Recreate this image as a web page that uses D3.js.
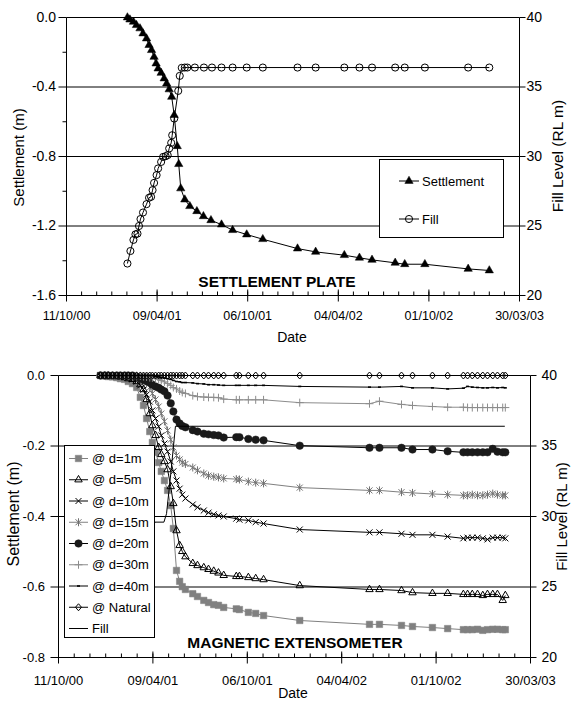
<!DOCTYPE html>
<html>
<head>
<meta charset="utf-8">
<script src="https://cdn.jsdelivr.net/npm/d3@7"></script>
<style>
  html, body { margin: 0; padding: 0; background: #fff; }
  svg { display: block; font-family: "Liberation Sans", Arial, Helvetica, sans-serif; }
</style>
</head>
<body>
<svg id="chart" width="571" height="702"></svg>
<script>
// ---------- shared axis definitions ----------
const dateTicks = ["11/10/00", "09/04/01", "06/10/01", "04/04/02", "01/10/02", "30/03/03"];
const fillTicks = [40, 35, 30, 25, 20];

// ---------- settlement plate (reading day = days after 11/10/00) ----------
const plateTicks = [0, -0.4, -0.8, -1.2, -1.6];
const plateMinorTicks = [-0.2, -0.6, -1.0, -1.4];
const plateDays = [121, 126, 133, 139, 146, 152, 159, 164, 169, 174, 178, 182, 188, 194, 199, 204, 209, 214, 220, 223,
  227, 235, 245, 259, 272, 287, 308, 330, 358, 390, 459, 495, 552, 582, 607, 653, 672, 712, 798, 840];
const plateSettlement = [0, -0.012, -0.025, -0.044, -0.063, -0.092, -0.121, -0.159, -0.188, -0.227, -0.265, -0.294,
  -0.319, -0.351, -0.38, -0.414, -0.457, -0.562, -0.741, -0.844, -0.984, -1.048, -1.086, -1.115, -1.144, -1.167,
  -1.192, -1.224, -1.249, -1.276, -1.33, -1.349, -1.368, -1.383, -1.395, -1.412, -1.42, -1.42, -1.447, -1.456];
const plateFillDays = [121, 127, 133, 137, 141, 144, 147, 152, 159, 164, 168, 171, 174, 179, 182, 188, 192, 197, 201,
  204, 208, 210, 214, 222, 225, 229, 235, 240, 255, 273, 289, 308, 330, 358, 390, 459, 495, 552, 582, 607, 653, 672,
  712, 798, 840];
const plateFill = [22.3, 23.2, 24.0, 24.4, 24.45, 25.0, 25.5, 25.97, 26.57, 27.03, 27.1, 27.58, 28.1, 28.66, 29.14,
  29.61, 29.97, 30.02, 30.1, 30.58, 30.98, 31.53, 32.73, 34.72, 35.8, 36.38, 36.4, 36.4, 36.4, 36.4, 36.4, 36.4, 36.4,
  36.4, 36.4, 36.4, 36.4, 36.4, 36.4, 36.4, 36.4, 36.4, 36.4, 36.4, 36.4];

// ---------- magnetic extensometer (shared reading days after 11/10/00) ----------
const extTicks = [0, -0.2, -0.4, -0.6, -0.8];
const extDays = [80, 88, 95, 103, 111, 118, 126, 133, 141, 149, 156, 162, 168, 174, 179, 185, 191, 196, 202, 208,
  214, 219, 225, 231, 236, 242, 256, 265, 277, 286, 296, 305, 315, 339, 345, 362, 376, 391, 460, 593,
  612, 654, 675, 713, 742, 772, 780, 789, 799, 809, 818, 828, 837, 847, 852];
const extD1 = [0, -0.001, -0.003, -0.004, -0.006, -0.009, -0.011, -0.017, -0.023, -0.034, -0.062, -0.085, -0.122,
  -0.159, -0.19, -0.218, -0.247, -0.272, -0.298, -0.326, -0.369, -0.434, -0.553, -0.584, -0.599, -0.607, -0.619,
  -0.627, -0.638, -0.644, -0.65, -0.652, -0.658, -0.662, -0.664, -0.672, -0.675, -0.681, -0.695, -0.706, -0.706,
  -0.709, -0.712, -0.715, -0.718, -0.721, -0.721, -0.721, -0.72, -0.723, -0.721, -0.72, -0.72, -0.721, -0.721];
const extD5 = [0, 0, 0, -0.001, -0.003, -0.004, -0.006, -0.009, -0.011, -0.017, -0.026, -0.04, -0.068, -0.108,
  -0.142, -0.17, -0.204, -0.224, -0.244, -0.267, -0.315, -0.363, -0.44, -0.482, -0.499, -0.514, -0.533, -0.539,
  -0.545, -0.55, -0.555, -0.56, -0.567, -0.57, -0.57, -0.573, -0.576, -0.579, -0.596, -0.607, -0.607, -0.61, -0.616,
  -0.618, -0.618, -0.621, -0.621, -0.621, -0.621, -0.624, -0.621, -0.621, -0.621, -0.638, -0.624];
const extD10 = [0, 0, 0, 0, 0, -0.001, -0.003, -0.006, -0.011, -0.017, -0.028, -0.04, -0.054, -0.074, -0.099,
  -0.122, -0.145, -0.17, -0.193, -0.216, -0.244, -0.272, -0.298, -0.321, -0.338, -0.349, -0.366, -0.374, -0.383,
  -0.389, -0.394, -0.397, -0.4, -0.406, -0.409, -0.411, -0.416, -0.42, -0.437, -0.445, -0.445, -0.449, -0.452,
  -0.452, -0.457, -0.462, -0.46, -0.46, -0.46, -0.462, -0.465, -0.46, -0.46, -0.46, -0.462];
const extD15 = [0, 0, 0, 0, 0, 0, 0, 0, -0.003, -0.006, -0.009, -0.014, -0.023, -0.034, -0.051, -0.068, -0.088,
  -0.108, -0.13, -0.156, -0.182, -0.204, -0.227, -0.238, -0.247, -0.251, -0.261, -0.269, -0.278, -0.284, -0.287,
  -0.289, -0.292, -0.294, -0.295, -0.301, -0.304, -0.306, -0.318, -0.326, -0.326, -0.331, -0.333, -0.336, -0.338,
  -0.34, -0.34, -0.338, -0.34, -0.34, -0.338, -0.335, -0.338, -0.34, -0.34];
const extD20 = [0, 0, 0, 0, 0, 0, 0, 0, 0, -0.003, -0.009, -0.011, -0.016, -0.02, -0.026, -0.031, -0.035, -0.04,
  -0.045, -0.057, -0.079, -0.102, -0.125, -0.136, -0.143, -0.147, -0.155, -0.159, -0.165, -0.167, -0.169, -0.17,
  -0.176, -0.175, -0.175, -0.18, -0.182, -0.184, -0.199, -0.205, -0.205, -0.205, -0.21, -0.21, -0.215, -0.218,
  -0.218, -0.218, -0.218, -0.218, -0.218, -0.208, -0.216, -0.218, -0.218];
const extD30 = [0, 0, 0, 0, 0, 0, 0, 0, 0, 0, -0.001, -0.003, -0.004, -0.006, -0.007, -0.009, -0.011, -0.014,
  -0.018, -0.023, -0.028, -0.034, -0.038, -0.044, -0.048, -0.051, -0.057, -0.06, -0.061, -0.062, -0.062, -0.063,
  -0.067, -0.069, -0.069, -0.069, -0.069, -0.069, -0.077, -0.08, -0.073, -0.082, -0.085, -0.088, -0.09, -0.09,
  -0.091, -0.091, -0.091, -0.091, -0.091, -0.091, -0.091, -0.091, -0.091];
const extD40 = [0, 0, 0, 0, 0, 0, 0, 0, 0, 0, 0, 0, 0, 0, 0, -0.003, -0.004, -0.006, -0.007, -0.009, -0.011,
  -0.014, -0.017, -0.018, -0.02, -0.02, -0.021, -0.023, -0.024, -0.026, -0.026, -0.027, -0.028, -0.028, -0.028,
  -0.028, -0.028, -0.028, -0.031, -0.033, -0.033, -0.031, -0.035, -0.035, -0.038, -0.036, -0.031, -0.033, -0.034,
  -0.035, -0.035, -0.034, -0.035, -0.034, -0.035];
const extNatural = [0, 0, 0, 0, 0, 0, 0, 0, 0, 0, 0, 0, 0, 0, 0, 0, 0, 0, 0, 0, 0, 0, 0, 0, 0, 0, 0, 0, 0, 0,
  0, 0, 0, 0, 0, 0, 0, 0, 0, 0, 0, 0, 0, 0, 0, 0, 0, 0, 0, 0, 0, 0, 0, 0, 0];
const extFillDays = [100, 130, 160, 184, 201, 206, 214, 223, 851];
const extFill = [22.0, 24.5, 27.5, 29.6, 29.6, 30.2, 33.0, 36.4, 36.4];

// ---------- helpers ----------
const svg = d3.select("#chart");
const parseDay = d3.utcParse("%d/%m/%y");
const formatDay = d3.utcFormat("%d/%m/%y");
const tickDates = dateTicks.map(parseDay);
const startDate = tickDates[0];
const endDate = tickDates[tickDates.length - 1];
const asDate = d => d3.utcDay.offset(startDate, d);
const minorDates = d3.utcDay.range(startDate, d3.utcDay.offset(endDate, 1), 30);

function markerPath(kind) {
  switch (kind) {
    case "triangle": return d3.symbol(d3.symbolTriangle, 30)();
    case "circle": return d3.symbol(d3.symbolCircle, 40)();
    case "square": return d3.symbol(d3.symbolSquare, 42)();
    case "openTriangle": return d3.symbol(d3.symbolTriangle, 24)();
    case "cross": return "M-3,-3L3,3M-3,3L3,-3";
    case "asterisk": return "M-3,-3L3,3M-3,3L3,-3M0,-4L0,4";
    case "dot": return d3.symbol(d3.symbolCircle, 44)();
    case "plus": return "M-4,0L4,0M0,-4L0,4";
    case "dash": return "M-1.5,0L1.5,0";
    case "diamond": return "M0,-3.5L3,0L0,3.5L-3,0Z";
    default: return null;
  }
}
const filledKinds = new Set(["triangle", "square", "dot"]);

function drawMarkers(sel, kind, color) {
  const d = markerPath(kind);
  if (!d) return;
  const filled = filledKinds.has(kind);
  sel.attr("d", d)
    .attr("fill", filled ? color : "none")
    .attr("stroke", color)
    .attr("stroke-width", kind === "dash" ? 1.6 : (filled ? 0.5 : 1));
}

function styleAxis(sel, size) {
  sel.attr("font-family", null).attr("font-size", null);
  sel.selectAll("text").attr("font-size", size).attr("fill", "#000");
  sel.selectAll("line,path").attr("stroke", "#000").attr("stroke-width", 1);
}

function buildPanel(p) {
  const x = d3.scaleUtc().domain([startDate, endDate]).range([p.left, p.right]);
  const y = d3.scaleLinear().domain([p.ticks[0], p.ticks[p.ticks.length - 1]]).range([p.top, p.bottom]);
  const y2 = d3.scaleLinear().domain([fillTicks[0], fillTicks[fillTicks.length - 1]]).range([p.top, p.bottom]);
  const g = svg.append("g");

  // horizontal gridlines at the labelled settlement values
  g.append("g").selectAll("line").data(p.ticks.slice(0, -1)).join("line")
    .attr("x1", p.left).attr("x2", p.right)
    .attr("y1", d => y(d)).attr("y2", d => y(d))
    .attr("stroke", "#000").attr("stroke-width", 1);

  const plot = g.append("g");
  const overlay = g.append("g");
  const axes = g.append("g");

  // left settlement axis
  axes.append("g").attr("transform", `translate(${p.left},0)`)
    .call(d3.axisLeft(y).tickValues(p.ticks).tickFormat(d => d.toFixed(1))
      .tickSizeInner(8).tickSizeOuter(0).tickPadding(p.leftPad).offset(0))
    .call(s => styleAxis(s, p.leftFont));
  if (p.minor) {
    axes.append("g").attr("transform", `translate(${p.left},0)`)
      .call(d3.axisLeft(y).tickValues(p.minor).tickFormat("").tickSize(4).offset(0))
      .call(s => { s.select(".domain").remove(); styleAxis(s, p.leftFont); });
  }
  // right fill-level axis
  axes.append("g").attr("transform", `translate(${p.right},0)`)
    .call(d3.axisRight(y2).tickValues(fillTicks).tickFormat(d => d)
      .tickSizeInner(6).tickSizeOuter(0).tickPadding(p.rightPad).offset(0))
    .call(s => styleAxis(s, p.rightFont));
  // date axis: labelled ticks cross the axis, monthly minor ticks sit inside
  axes.append("g").attr("transform", `translate(0,${p.bottom})`)
    .call(d3.axisBottom(x).tickValues(tickDates).tickFormat(formatDay)
      .tickSizeInner(6).tickSizeOuter(0).tickPadding(p.datePad).offset(0))
    .call(s => styleAxis(s, p.dateFont));
  axes.append("g").attr("transform", `translate(0,${p.bottom})`)
    .call(d3.axisTop(x).tickValues(tickDates).tickFormat("").tickSize(6).offset(0))
    .call(s => { s.select(".domain").remove(); styleAxis(s, 10); });
  axes.append("g").attr("transform", `translate(0,${p.bottom})`)
    .call(d3.axisTop(x).tickValues(minorDates).tickFormat("").tickSize(4).offset(0))
    .call(s => { s.select(".domain").remove(); styleAxis(s, 10); });

  // axis titles
  axes.append("text").attr("x", p.dateTitle[0]).attr("y", p.dateTitle[1])
    .attr("text-anchor", "middle").attr("font-size", 14).text("Date");
  axes.append("text")
    .attr("transform", `translate(${p.leftTitle[0]},${p.leftTitle[1]}) rotate(-90)`)
    .attr("text-anchor", "middle").attr("dy", "0.35em").attr("font-size", p.titleFont)
    .text("Settlement (m)");
  axes.append("text")
    .attr("transform", `translate(${p.rightTitle[0]},${p.rightTitle[1]}) rotate(-90)`)
    .attr("text-anchor", "middle").attr("dy", "0.35em").attr("font-size", p.rightTitleFont)
    .text("Fill Level (RL m)");
  // panel name
  overlay.append("text").attr("x", p.name[0]).attr("y", p.name[1])
    .attr("text-anchor", "middle").attr("font-size", 15.5).attr("font-weight", "bold")
    .text(p.label);

  return { plot, overlay, x, y, y2 };
}

function drawSeries(panel, s) {
  const yScale = s.axis === "fill" ? panel.y2 : panel.y;
  const pts = s.days.map((d, i) => ({ date: asDate(d), v: s.values[i] }));
  const line = d3.line().x(d => panel.x(d.date)).y(d => yScale(d.v));
  const grp = panel.plot.append("g");
  grp.append("path").datum(pts).attr("d", line)
    .attr("fill", "none").attr("stroke", s.lineColor).attr("stroke-width", 1);
  if (s.marker) {
    grp.selectAll("path.mk").data(pts).join("path").attr("class", "mk")
      .attr("transform", d => `translate(${panel.x(d.date)},${yScale(d.v)})`)
      .call(sel => drawMarkers(sel, s.marker, s.markColor));
  }
}

function drawLegend(panel, box, entries) {
  const lg = panel.overlay.append("g");
  lg.append("rect").attr("x", box.x).attr("y", box.y).attr("width", box.w).attr("height", box.h)
    .attr("fill", "#fff").attr("stroke", "#000").attr("stroke-width", 1);
  entries.forEach((s, i) => {
    const cy = box.firstY + i * box.step;
    lg.append("line").attr("x1", box.lineX[0]).attr("x2", box.lineX[1]).attr("y1", cy).attr("y2", cy)
      .attr("stroke", s.lineColor).attr("stroke-width", 1);
    if (s.marker) {
      lg.append("path").attr("transform", `translate(${(box.lineX[0] + box.lineX[1]) / 2},${cy})`)
        .call(sel => drawMarkers(sel, s.marker, s.markColor));
    }
    lg.append("text").attr("x", box.textX).attr("y", cy).attr("dy", "0.35em")
      .attr("font-size", 13).text(s.name);
  });
}

// ---------- settlement plate panel ----------
const plate = buildPanel({
  left: 66.5, right: 519.5, top: 17.5, bottom: 295.5,
  ticks: plateTicks, minor: plateMinorTicks,
  leftPad: 2.5, rightPad: 1, datePad: 9.5,
  leftFont: 14, rightFont: 14, dateFont: 12.5, titleFont: 15, rightTitleFont: 15.5,
  dateTitle: [292, 341.5], leftTitle: [18.5, 157.5], rightTitle: [558, 156],
  name: [277, 286.5], label: "SETTLEMENT PLATE"
});
const plateSeries = [
  { name: "Settlement", days: plateDays, values: plateSettlement, axis: "settlement",
    lineColor: "#000", marker: "triangle", markColor: "#000" },
  { name: "Fill", days: plateFillDays, values: plateFill, axis: "fill",
    lineColor: "#000", marker: "circle", markColor: "#000" }
];
plateSeries.forEach(s => drawSeries(plate, s));
drawLegend(plate, { x: 379.5, y: 159.5, w: 124, h: 78, firstY: 181, step: 38,
  lineX: [399, 419], textX: 422 }, plateSeries);

// ---------- magnetic extensometer panel ----------
const ext = buildPanel({
  left: 58.5, right: 530.5, top: 375.5, bottom: 657.5,
  ticks: extTicks, minor: null,
  leftPad: 5.5, rightPad: 5, datePad: 12,
  leftFont: 13, rightFont: 14, dateFont: 13, titleFont: 16, rightTitleFont: 15,
  dateTitle: [293, 698], leftTitle: [13.5, 514], rightTitle: [561.5, 516.5],
  name: [295, 647.5], label: "MAGNETIC EXTENSOMETER"
});
const extSeries = [
  { name: "@ d=1m", days: extDays, values: extD1, lineColor: "#808080", marker: "square", markColor: "#808080" },
  { name: "@ d=5m", days: extDays, values: extD5, lineColor: "#000", marker: "openTriangle", markColor: "#000" },
  { name: "@ d=10m", days: extDays, values: extD10, lineColor: "#000", marker: "cross", markColor: "#000" },
  { name: "@ d=15m", days: extDays, values: extD15, lineColor: "#808080", marker: "asterisk", markColor: "#707070" },
  { name: "@ d=20m", days: extDays, values: extD20, lineColor: "#000", marker: "dot", markColor: "#1a1a1a" },
  { name: "@ d=30m", days: extDays, values: extD30, lineColor: "#8c8c8c", marker: "plus", markColor: "#8c8c8c" },
  { name: "@ d=40m", days: extDays, values: extD40, lineColor: "#000", marker: "dash", markColor: "#000" },
  { name: "@ Natural", days: extDays, values: extNatural, lineColor: "#000", marker: "diamond", markColor: "#000" },
  { name: "Fill", days: extFillDays, values: extFill, axis: "fill", lineColor: "#000", marker: null }
];
extSeries.forEach(s => drawSeries(ext, s));
drawLegend(ext, { x: 64.5, y: 445.5, w: 90, h: 192, firstY: 458.5, step: 21.25,
  lineX: [69, 88], textX: 92 }, extSeries);
</script>
</body>
</html>
